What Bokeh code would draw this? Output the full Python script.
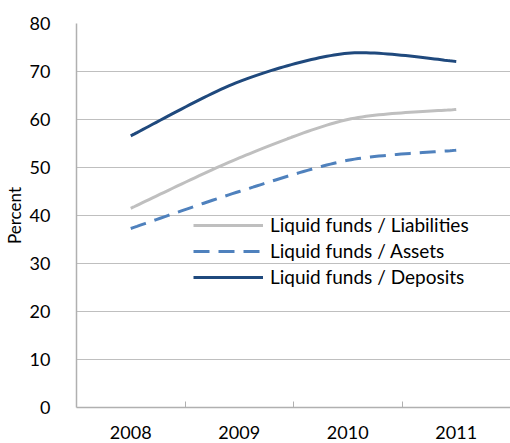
import numpy as np
from bokeh.plotting import figure
from bokeh.models import FixedTicker, Range1d, Legend, LegendItem
from bokeh.embed import file_html
from bokeh.resources import INLINE

years = [2008, 2009, 2010, 2011]
year_labels = ["2008", "2009", "2010", "2011"]
liabilities = [41.5, 52.0, 60.0, 62.1]
assets = [37.3, 45.0, 51.5, 53.6]
deposits = [56.6, 67.9, 73.8, 72.1]

FONT = "Lato"

p = figure(width=510, height=443, output_backend="svg", toolbar_location=None,
           x_range=Range1d(2007.5, 2011.5), y_range=Range1d(0, 80),
           min_border_left=75, min_border_right=0, min_border_top=23, min_border_bottom=36)
p.outline_line_color = None
p.background_fill_color = "white"


def smooth(xs, ys, n=30, k=7.0):
    xs = np.asarray(xs, float)
    ys = np.asarray(ys, float)
    P = np.column_stack([xs, ys])
    Pext = np.vstack([P[0], P, P[-1]])
    out = []
    for i in range(len(P) - 1):
        p0, p1, p2, p3 = Pext[i], Pext[i + 1], Pext[i + 2], Pext[i + 3]
        c1 = p1 + (p2 - p0) / k
        c2 = p2 - (p3 - p1) / k
        t = np.linspace(0, 1, n)[:, None]
        seg = ((1 - t) ** 3) * p1 + 3 * ((1 - t) ** 2) * t * c1 + 3 * (1 - t) * t ** 2 * c2 + t ** 3 * p2
        if i > 0:
            seg = seg[1:]
        out.append(seg)
    out = np.vstack(out)
    return out[:, 0], out[:, 1]


x1, y1 = smooth(years, liabilities)
x2, y2 = smooth(years, assets)
x3, y3 = smooth(years, deposits)

r1 = p.line(x1, y1, line_color="#BFBFBF", line_width=3)
r2 = p.line(x2, y2, line_color="#4F81BD", line_width=3, line_dash="16 9")
r3 = p.line(x3, y3, line_color="#1F497D", line_width=3)

legend = Legend(items=[LegendItem(label="Liquid funds / Liabilities", renderers=[r1]),
                       LegendItem(label="Liquid funds / Assets", renderers=[r2]),
                       LegendItem(label="Liquid funds / Deposits", renderers=[r3])],
                location=(117, 119), glyph_width=70, glyph_height=20, label_height=20,
                spacing=3, padding=0, margin=0, label_standoff=7,
                background_fill_alpha=0, border_line_color=None,
                label_text_font=FONT, label_text_font_size="19px", label_text_color="#000000")
p.add_layout(legend, "center")

# axes
p.xaxis.ticker = FixedTicker(ticks=years, minor_ticks=[2008.5, 2009.5, 2010.5])
p.xaxis.major_label_overrides = {y: l for y, l in zip(years, year_labels)}
p.xaxis.major_tick_line_color = None
p.xaxis.minor_tick_in = 6
p.xaxis.minor_tick_out = 0
p.xaxis.minor_tick_line_color = "#B0B0B0"
p.xaxis.axis_line_color = "#B0B0B0"
p.xaxis.axis_line_width = 1.5
p.xaxis.major_label_standoff = 12
p.xaxis.major_label_text_font = FONT
p.xaxis.major_label_text_font_size = "18px"
p.xaxis.major_label_text_color = "#000000"

p.yaxis.ticker = FixedTicker(ticks=[0, 10, 20, 30, 40, 50, 60, 70, 80])
p.yaxis.major_tick_line_color = None
p.yaxis.minor_tick_line_color = None
p.yaxis.axis_line_color = "#B0B0B0"
p.yaxis.axis_line_width = 1.5
p.yaxis.major_label_standoff = 20
p.yaxis.major_label_text_font = FONT
p.yaxis.major_label_text_font_size = "18px"
p.yaxis.major_label_text_color = "#000000"
p.yaxis.axis_label = "Percent"
p.yaxis.axis_label_text_font = FONT
p.yaxis.axis_label_text_font_size = "17px"
p.yaxis.axis_label_text_font_style = "normal"
p.yaxis.axis_label_text_color = "#000000"
p.yaxis.axis_label_standoff = 2

p.xgrid.grid_line_color = None
p.ygrid.grid_line_color = "#BFBFBF"
p.ygrid.grid_line_width = 1

open("out.html", "w").write(file_html(p, INLINE))
